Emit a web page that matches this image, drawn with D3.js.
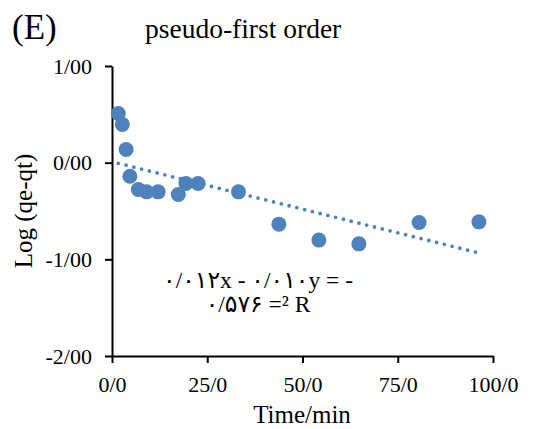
<!DOCTYPE html>
<html>
<head>
<meta charset="utf-8">
<script src="https://cdn.jsdelivr.net/npm/d3@7"></script>
<style>
  html, body { margin: 0; padding: 0; background: #fff; }
  svg { display: block; }
  text { font-family: "Liberation Serif", "Times New Roman", "DejaVu Sans", serif; fill: #000; }
</style>
</head>
<body>
<svg id="chart" width="550" height="429"></svg>
<script>
// ---- data ----
const timeMin = [1.65, 2.7, 3.7, 4.7, 6.9, 9.1, 12.1, 17.4, 19.4, 22.6, 33.2, 43.8, 54.3, 64.8, 80.6, 96.3];
const logQeQt = [0.509, 0.396, 0.136, -0.140, -0.277, -0.302, -0.302, -0.329, -0.215, -0.215, -0.302, -0.636, -0.801, -0.840, -0.619, -0.612];
const trendCoef = [-0.0098, 0.0097]; // slope, intercept
const xTicks = [0, 25, 50, 75, 100];
const yTicks = [1, 0, -1, -2];
const panelLabel = "(E)";
const chartTitle = "pseudo-first order";
const xTitle = "Time/min";
const yTitle = "Log (qe-qt)";
const eqLines = ["۰/۰۱۲x - ۰/۰۱۰y = -", "۰/۵۷۶ =² R"];

const svg = d3.select("#chart");
const x = d3.scaleLinear().domain([0, 100]).range([112, 493]);
const y = d3.scaleLinear().domain([-2, 1]).range([356, 66]);
const blue = "#4F81BD";

const fmtY = d => d3.format(".2f")(d).replace(".", "/").replace("−", "-");
const fmtX = d => d3.format(".1f")(d).replace(".", "/");

// x axis
const gx = svg.append("g").attr("transform", `translate(0,${y(-2)})`)
  .call(d3.axisBottom(x).tickValues(xTicks).tickFormat(fmtX).tickSize(7).tickSizeOuter(0));
gx.select(".domain").attr("stroke", "#000").attr("stroke-width", 2);
gx.selectAll(".tick line").attr("stroke", "#000").attr("stroke-width", 2);
gx.selectAll(".tick text").attr("font-size", 22).attr("font-family", "Liberation Serif").attr("dy", null).attr("y", 36);

// y axis
const gy = svg.append("g").attr("transform", `translate(${x(0)},0)`)
  .call(d3.axisLeft(y).tickValues(yTicks).tickFormat(fmtY).tickSize(7).tickSizeOuter(0));
gy.select(".domain").attr("stroke", "#000").attr("stroke-width", 2);
gy.selectAll(".tick line").attr("stroke", "#000").attr("stroke-width", 2);
gy.selectAll(".tick text").attr("font-size", 22).attr("font-family", "Liberation Serif").attr("x", -20).attr("dy", "0.33em");

// trendline
const tx = [timeMin[0], timeMin[timeMin.length - 1]];
svg.append("line")
  .attr("x1", x(tx[0])).attr("y1", y(trendCoef[0] * tx[0] + trendCoef[1]))
  .attr("x2", x(tx[1])).attr("y2", y(trendCoef[0] * tx[1] + trendCoef[1]))
  .attr("stroke", blue).attr("stroke-width", 3.8)
  .attr("stroke-linecap", "round").attr("stroke-dasharray", "0,8");

// points
svg.append("g").selectAll("circle").data(timeMin).join("circle")
  .attr("cx", d => x(d)).attr("cy", (d, i) => y(logQeQt[i]))
  .attr("r", 7.5).attr("fill", blue);

// titles
svg.append("text").attr("x", 12).attr("y", 39).attr("font-size", 35).text(panelLabel);
svg.append("text").attr("x", 145).attr("y", 38).attr("font-size", 27.5).text(chartTitle);
svg.append("text").attr("x", 302).attr("y", 423).attr("text-anchor", "middle").attr("font-size", 25).text(xTitle);
svg.append("text").attr("transform", "translate(32,211) rotate(-90)").attr("text-anchor", "middle")
  .attr("font-size", 25).text(yTitle);

// equation
svg.append("g").selectAll("text").data(eqLines).join("text")
  .attr("x", 258).attr("y", (d, i) => 288 + i * 24)
  .attr("text-anchor", "middle").attr("font-size", 23.5)
  .attr("direction", "ltr").attr("unicode-bidi", "embed")
  .text(d => d);
</script>
</body>
</html>
